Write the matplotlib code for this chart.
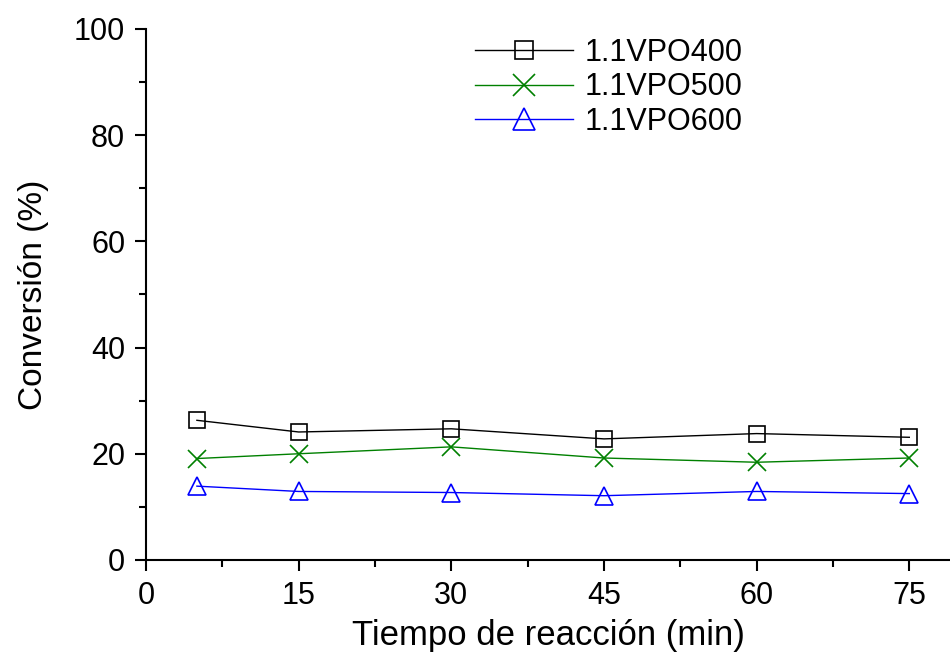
import matplotlib
matplotlib.use("Agg")
import matplotlib.pyplot as plt
from matplotlib.ticker import MultipleLocator

plt.rcParams['font.family'] = ['Liberation Sans', 'DejaVu Sans']

tiempo = [5, 15, 30, 45, 60, 75]
vpo400 = [26.3, 24.1, 24.7, 22.8, 23.8, 23.1]
vpo500 = [19.1, 20.0, 21.3, 19.2, 18.4, 19.2]
vpo600 = [13.9, 12.9, 12.7, 12.1, 12.9, 12.5]

fig = plt.figure(figsize=(9.5, 6.58), dpi=100)
ax = fig.add_axes([0.1537, 0.149, 0.8463, 0.807])

ax.plot(tiempo, vpo400, color='black', lw=1, marker='s', ms=11, mfc='none', mec='black', mew=1.2, label='1.1VPO400')
ax.plot(tiempo, vpo500, color='green', lw=1, marker='x', ms=13, mec='green', mew=1.2, label='1.1VPO500')
ax.plot(tiempo, vpo600, color='blue', lw=1, marker='^', ms=13, mfc='none', mec='blue', mew=1.2, label='1.1VPO600')

ax.set_xlim(0, 79)
ax.set_ylim(0, 100)
ax.set_xticks([0, 15, 30, 45, 60, 75])
ax.xaxis.set_minor_locator(MultipleLocator(7.5))
ax.set_yticks([0, 20, 40, 60, 80, 100])
ax.yaxis.set_minor_locator(MultipleLocator(10))

for s in ['top', 'right']:
    ax.spines[s].set_visible(False)
for s in ['left', 'bottom']:
    ax.spines[s].set_linewidth(1.5)

ax.tick_params(which='major', direction='out', length=8, width=1.5, labelsize=22, pad=7)
ax.tick_params(which='minor', direction='out', length=5, width=1.5)

ax.set_xlabel('Tiempo de reacción (min)', fontsize=25, labelpad=6)
ax.set_ylabel('Conversión (%)', fontsize=24, labelpad=18)

ax.legend(loc='upper left', bbox_to_anchor=(0.375, 1.035), frameon=False, fontsize=22,
          handlelength=3.2, handletextpad=0.4, labelspacing=0.15, markerscale=1.2)

fig.savefig('out.png', dpi=100)
